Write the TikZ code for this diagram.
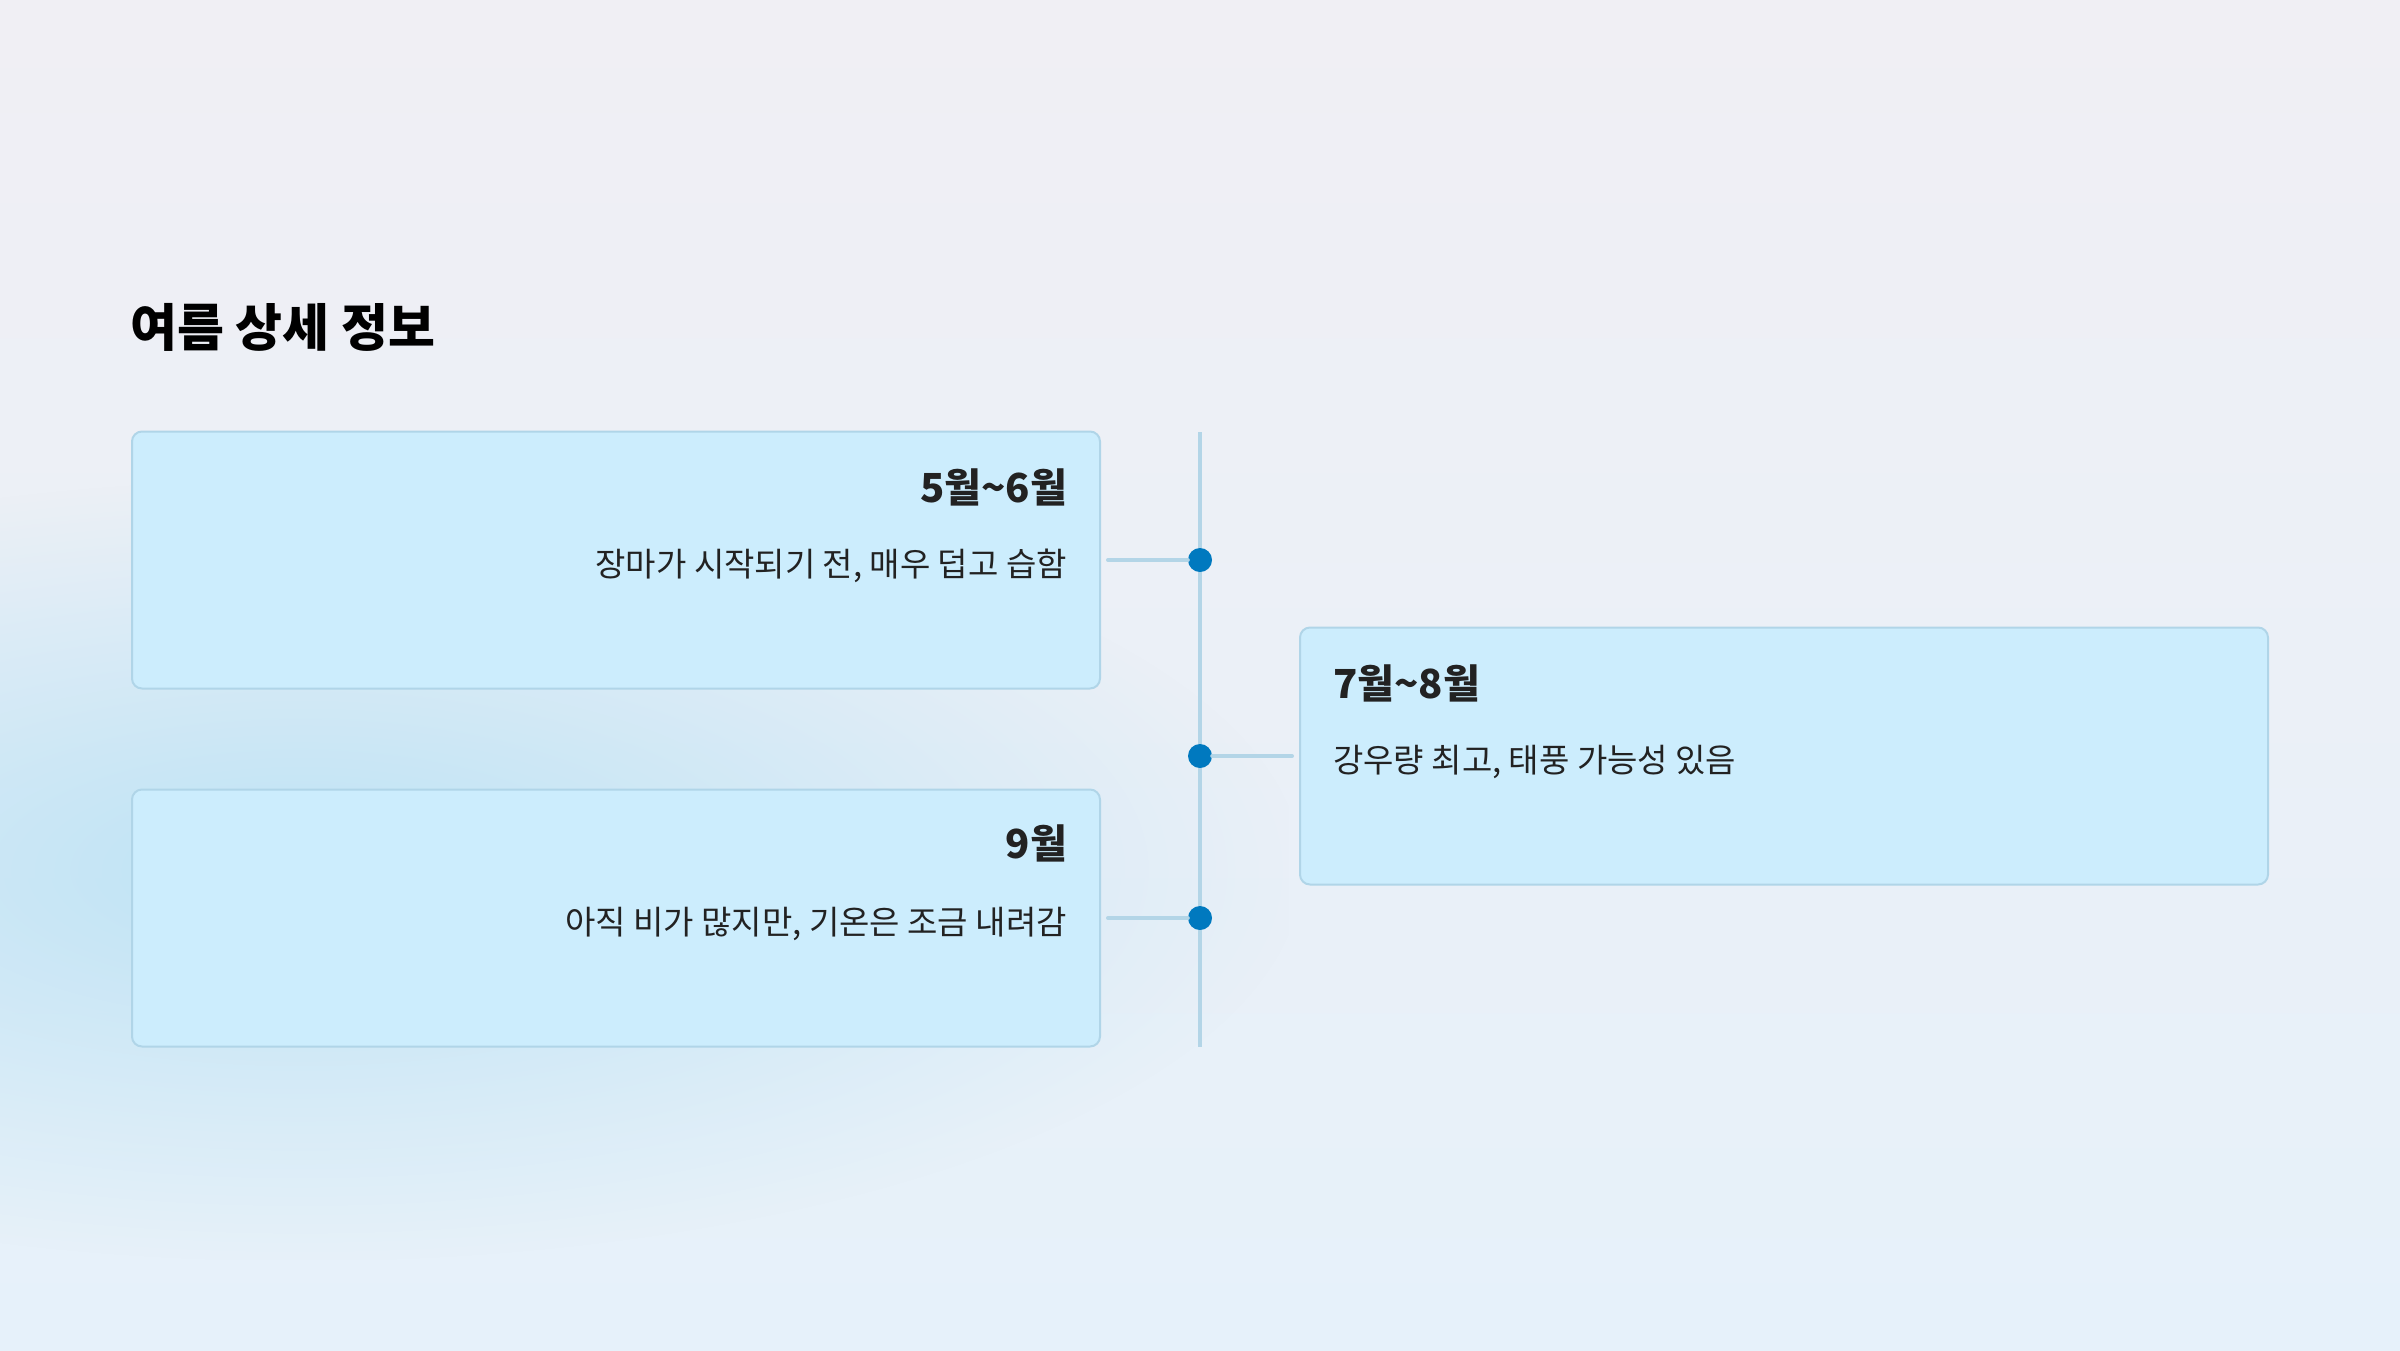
\documentclass[tikz,border=0pt]{standalone}
\usepackage{fontspec}
\setmainfont{Noto Sans CJK KR}
\usepackage{xcolor}
\usetikzlibrary{fadings}

\definecolor{cardfill}{HTML}{CCEDFD}
\definecolor{cardline}{HTML}{B0D5E8}
\definecolor{railblue}{HTML}{B3D5E7}
\definecolor{dotblue}{HTML}{0079BF}
\definecolor{inkdark}{HTML}{222222}
\definecolor{bgtop}{HTML}{F0EFF4}
\definecolor{bgbot}{HTML}{E6F1FA}
\definecolor{bgblue}{HTML}{BDE3F5}

\tikzfading[name=blobfade, inner color=transparent!0, outer color=transparent!100]

\tikzset{
  card/.style={draw=cardline, fill=cardfill, line width=2pt, rounded corners=10pt,
    minimum width=968pt, minimum height=257pt, inner sep=0pt},
  monthtxt/.style={font=\fontsize{40}{48}\selectfont\bfseries, text=inkdark, inner sep=0pt},
  notetxt/.style={font=\fontsize{33}{40}\selectfont, text=inkdark, inner sep=0pt},
  link/.style={draw=railblue, line width=4pt, line cap=round},
  dot/.style={circle, fill=dotblue, minimum size=24pt, inner sep=0pt}
}

\begin{document}
\begin{tikzpicture}[x=1pt, y=-1pt]
\useasboundingbox (0,0) rectangle (2400,1350);

% background
\shade[top color=bgtop, bottom color=bgbot] (0,0) rectangle (2400,1350);
\fill[bgblue, path fading=blobfade] (-700,480) rectangle (1300,1260);

% title
\node[anchor=west, inner sep=0pt, font=\fontsize{51}{60}\selectfont\bfseries] (title)
  at (130,327) {여름 상세 정보};

% rail
\coordinate (railtop) at (1200,432);
\coordinate (railbot) at (1200,1047);
\draw[link, line cap=butt] (railtop) -- (railbot);

% cards
\node[card] (mayjun) at (616,560) {};
\node[card] (julaug) at (1784,756) {};
\node[card] (sept) at (616,918) {};

\node[monthtxt, anchor=east] (mayjunhd) at (1067,487) {5월\textasciitilde 6월};
\node[notetxt, anchor=east] (mayjuntx) at (1067,566) {장마가 시작되기 전, 매우 덥고 습함};

\node[monthtxt, anchor=west] (julaughd) at (1333,683) {7월\textasciitilde 8월};
\node[notetxt, anchor=west] (julaugtx) at (1333,762) {강우량 최고, 태풍 가능성 있음};

\node[monthtxt, anchor=east] (septhd) at (1067,843) {9월};
\node[notetxt, anchor=east] (septtx) at (1067,924) {아직 비가 많지만, 기온은 조금 내려감};

% dots and links
\node[dot] (d1) at (1200,560) {};
\node[dot] (d2) at (1200,756) {};
\node[dot] (d3) at (1200,918) {};

\draw[link] ([xshift=7pt]mayjun.east) -- (d1);
\draw[link] (d2) -- ([xshift=-7pt]julaug.west);
\draw[link] ([xshift=7pt]sept.east) -- (d3);

\end{tikzpicture}
\end{document}
